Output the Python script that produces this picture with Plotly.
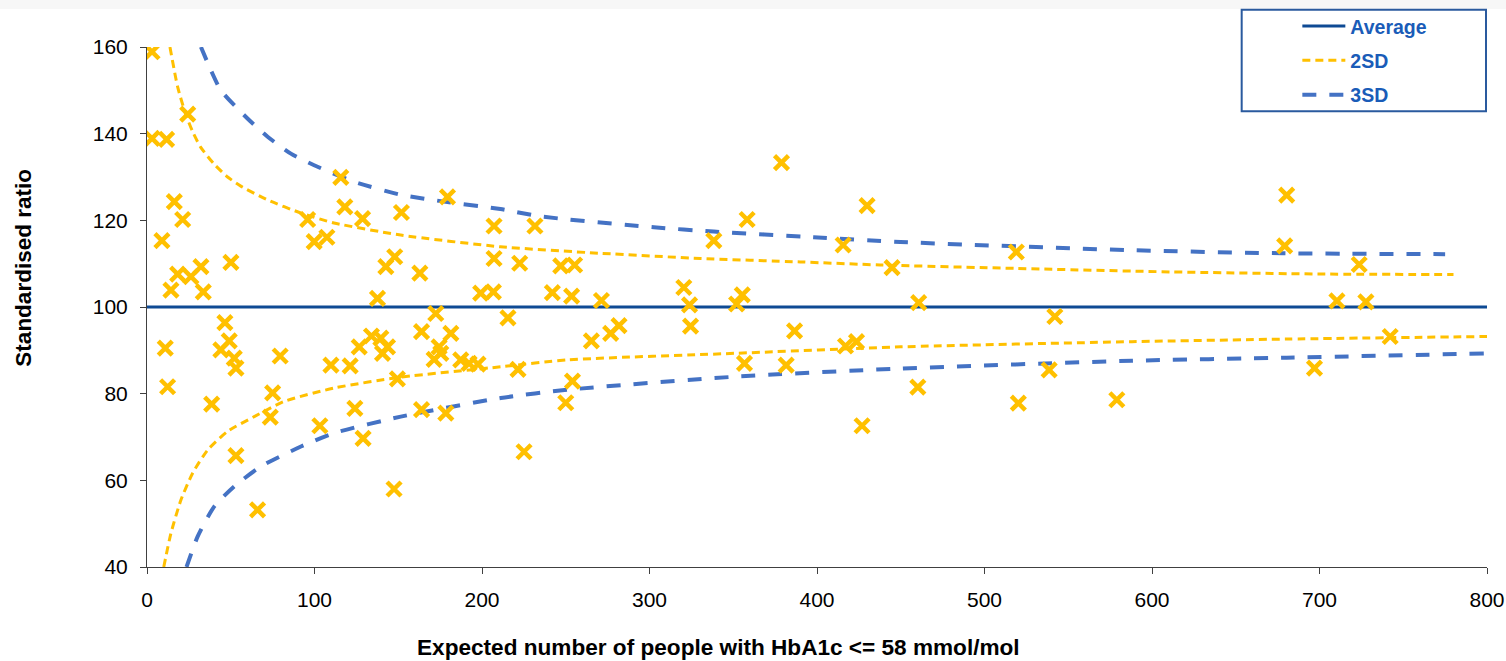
import plotly.graph_objects as go

# ---- scatter data (expected count, standardised ratio) ----
expected = [3.0, 3.0, 11.7, 24.3, 16.3, 21.3, 8.9, 18.3, 26.2, 32.2, 14.3, 33.6, 50.1, 95.9, 99.8,
            107.4, 115.7, 118.1, 128.7, 137.6, 142.6, 147.9, 151.9, 162.9, 172.4, 179.4, 199.2, 206.8,
            207.2, 207.2,
            10.9, 12.3, 38.6, 46.5, 44.1, 49.1, 52.1, 53.1, 53.1, 66.0, 73.6, 75.0, 79.5, 103.2, 109.8,
            121.3, 126.7, 124.1, 129.0, 134.0, 139.6, 143.6, 140.6, 147.5, 149.5, 163.9, 163.9, 171.4,
            174.4, 175.4, 181.4, 178.4, 187.3, 192.3, 197.6,
            215.5, 222.5, 231.6, 242.0, 247.0, 255.3, 253.5, 271.3, 281.8, 320.5, 323.9, 324.5, 338.4,
            352.0, 355.4, 358.3, 378.8, 415.6, 429.9, 444.8,
            221.5, 225.1, 250.0, 254.0, 265.3, 276.8, 356.7, 381.6, 386.6, 417.0, 423.6, 426.9,
            519.0, 680.4, 679.2, 723.7, 710.4, 727.7, 460.7, 542.0,
            460.2, 520.2, 538.6, 579.0, 697.0, 742.2]
ratio = [158.9, 138.9, 138.7, 144.5, 124.3, 120.2, 115.3, 107.6, 107.0, 109.3, 103.9, 103.5, 110.3, 120.2, 115.1,
         116.1, 129.9, 123.1, 120.4, 102.0, 109.3, 111.6, 121.8, 107.8, 98.5, 125.4, 103.2, 103.5,
         118.7, 111.2,
         90.5, 81.6, 77.6, 96.4, 90.1, 92.2, 88.2, 85.9, 65.7, 53.2, 74.6, 80.2, 88.7, 72.6, 86.6,
         86.4, 90.8, 76.6, 69.7, 93.3, 92.8, 90.8, 89.3, 58.0, 83.4, 94.3, 76.3, 87.9,
         90.8, 89.3, 93.9, 75.5, 87.8, 87.0, 86.8,
         97.5, 110.1, 118.7, 103.3, 109.5, 109.7, 102.5, 101.5, 95.7, 104.5, 100.5, 95.6, 115.3,
         100.7, 102.8, 120.2, 133.3, 114.3, 123.4, 109.1,
         85.6, 66.6, 77.9, 82.9, 92.2, 93.9, 87.0, 86.6, 94.5, 91.0, 92.0, 72.6,
         112.7, 125.8, 114.1, 109.8, 101.4, 101.2, 101.0, 97.8,
         81.5, 77.8, 85.5, 78.6, 85.9, 93.2]

# ---- reference lines ----
avg_x = [0, 800]
avg_y = [100, 100]

sd2_up_x = [13.7, 18.3, 23.0, 27.2, 32.0, 40.0, 48.1, 56.0, 72.0, 91.8, 111.6, 151.5, 211.0, 270.6,
            330.5, 390.0, 437.7, 519.0, 611.0, 703.0, 780.0]
sd2_up_y = [160.0, 150.8, 144.6, 140.5, 136.9, 133.0, 130.0, 127.9, 124.7, 121.7, 119.4, 116.6, 113.9,
            112.4, 111.2, 110.4, 109.7, 108.9, 108.1, 107.6, 107.5]
sd2_lo_x = [10.0, 14.3, 20.3, 27.3, 36.2, 48.1, 64.0, 81.9, 111.7, 151.5, 211.2, 251.0, 350.4, 449.8,
            588.0, 680.4, 800.0]
sd2_lo_y = [40.0, 47.8, 55.5, 61.7, 67.0, 71.3, 74.7, 78.2, 81.3, 83.8, 86.2, 87.8, 89.3, 90.8,
            92.0, 92.6, 93.2]

sd3_up_x = [32.2, 38.2, 44.1, 60.0, 72.0, 85.9, 99.8, 123.7, 151.5, 179.4, 211.0, 235.0, 302.6, 338.4,
            398.0, 449.8, 588.0, 678.0, 775.0]
sd3_up_y = [160.0, 154.6, 150.0, 143.5, 139.3, 135.4, 132.7, 128.9, 125.9, 124.2, 122.6, 120.9, 118.4,
            117.4, 116.1, 115.0, 113.1, 112.4, 112.2]
sd3_lo_x = [23.6, 30.2, 40.2, 52.1, 68.0, 91.9, 111.7, 151.5, 211.2, 251.0, 350.4, 449.8, 588.0,
            680.4, 800.0]
sd3_lo_y = [40.0, 47.0, 54.0, 58.6, 63.2, 67.8, 70.9, 74.7, 79.0, 80.9, 83.9, 85.8, 87.6, 88.3, 89.3]

# ---- styles ----
NAVY = "#0E4A94"
YELLOW = "#FFC000"
BLUE = "#4472C4"
LEG_TEXT = "#1A5CB8"
FONT = "Liberation Sans, Arial, sans-serif"

fig = go.Figure()
fig.add_trace(go.Scatter(x=avg_x, y=avg_y, mode="lines", name="Average",
                         line=dict(color=NAVY, width=3), legendgroup="a", hoverinfo="skip"))
fig.add_trace(go.Scatter(x=sd2_up_x, y=sd2_up_y, mode="lines", name="2SD", legendgroup="b",
                         line=dict(color=YELLOW, width=3, dash="8px,5px", shape="spline", smoothing=0.6)))
fig.add_trace(go.Scatter(x=sd2_lo_x, y=sd2_lo_y, mode="lines", name="2SD", legendgroup="b",
                         showlegend=False,
                         line=dict(color=YELLOW, width=3, dash="8px,5px", shape="spline", smoothing=0.6)))
fig.add_trace(go.Scatter(x=sd3_up_x, y=sd3_up_y, mode="lines", name="3SD", legendgroup="c",
                         line=dict(color=BLUE, width=4, dash="14px,13px", shape="spline", smoothing=0.6)))
fig.add_trace(go.Scatter(x=sd3_lo_x, y=sd3_lo_y, mode="lines", name="3SD", legendgroup="c",
                         showlegend=False,
                         line=dict(color=BLUE, width=4, dash="14px,13px", shape="spline", smoothing=0.6)))
fig.add_trace(go.Scatter(x=expected, y=ratio, mode="markers", name="Practices", showlegend=False,
                         marker=dict(symbol="x-thin", size=14, color=YELLOW,
                                     line=dict(color=YELLOW, width=4.5))))

axis_common = dict(showline=True, linecolor="#404040", linewidth=1, ticks="outside", ticklen=6,
                   tickcolor="#404040", showgrid=False, zeroline=False, automargin=False,
                   tickfont=dict(family=FONT, size=21, color="#000000"))

fig.update_xaxes(range=[0, 800], dtick=100, tick0=0, ticklabelstandoff=8, **axis_common)
fig.update_yaxes(range=[40, 160], dtick=20, tick0=40, ticklabelstandoff=8, **axis_common)

# plot area geometry in pixels: x 146.5..1487.5, y 46.7..567.3
L, R, T, B = 146.5, 1487.5, 46.7, 567.3
W, H = R - L, B - T

def px(xp):
    return (xp - L) / W

def py(yp):
    return (B - yp) / H

fig.update_layout(
    width=1506, height=661, autosize=False,
    margin=dict(l=L, r=1506 - R, t=T, b=661 - B, pad=0, autoexpand=False),
    paper_bgcolor="white", plot_bgcolor="white",
    showlegend=True,
    legend=dict(x=px(1297.7), y=py(6.5), xanchor="left", yanchor="top",
                bgcolor="rgba(0,0,0,0)", borderwidth=0, tracegroupgap=6,
                itemwidth=43,
                font=dict(family=FONT, size=19.5, color=LEG_TEXT, weight="bold")),
    shapes=[
        dict(type="rect", xref="paper", yref="paper", x0=-0.2, x1=1.2, y0=py(8.7), y1=py(-2),
             fillcolor="#F7F7F7", line=dict(width=0), layer="below"),
        dict(type="rect", xref="paper", yref="paper", x0=px(1242), x1=px(1486.5), y0=py(111),
             y1=py(9.5), line=dict(color="#2A5A9E", width=2), fillcolor="rgba(0,0,0,0)"),
    ],
    annotations=[
        dict(text="Expected number of people with HbA1c <= 58 mmol/mol", xref="paper", yref="paper",
             x=px(718.7), y=py(648), xanchor="center", yanchor="middle", showarrow=False,
             font=dict(family=FONT, size=22.6, color="#000000", weight="bold")),
        dict(text="Standardised ratio", xref="paper", yref="paper", textangle=-90,
             x=px(22), y=py(268), xanchor="center", yanchor="middle", showarrow=False,
             font=dict(family=FONT, size=22.5, color="#000000", weight="bold")),
    ],
)

fig.write_html("out.html",
               config={"responsive": False, "displayModeBar": False},
               post_script="document.documentElement.style.margin='0';"
                           "document.body.style.margin='0';document.body.style.padding='0';"
                           "document.body.style.overflow='hidden';"
                           "document.documentElement.style.overflow='hidden';")
